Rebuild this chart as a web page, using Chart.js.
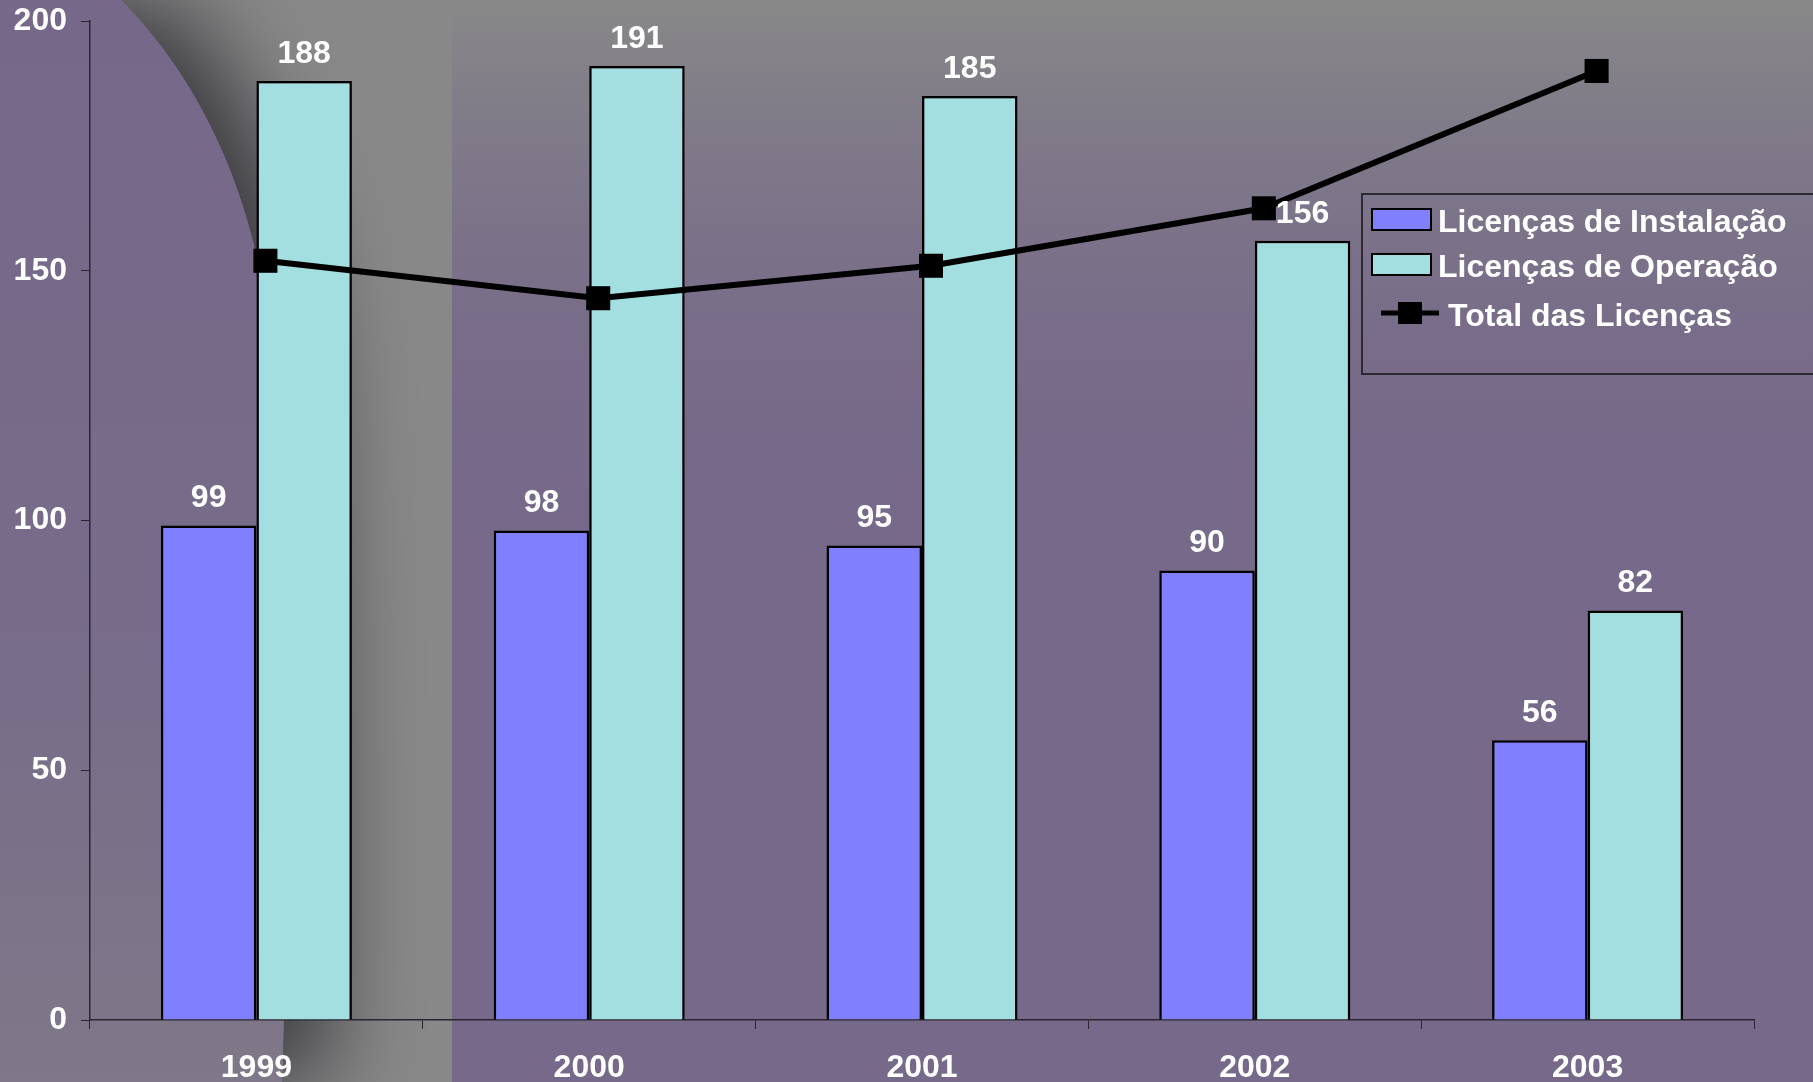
<!DOCTYPE html>
<html>
<head>
<meta charset="utf-8">
<script src="https://cdn.jsdelivr.net/npm/chart.js@4/dist/chart.umd.min.js"></script>
<style>
  html, body { margin: 0; padding: 0; background: #766989; overflow: hidden; }
  canvas { display: block; }
</style>
</head>
<body>
<canvas id="grafico" width="1813" height="1082"></canvas>
<script>
const anos = ["1999", "2000", "2001", "2002", "2003"];
const instalacao = [99, 98, 95, 90, 56];
const operacao = [188, 191, 185, 156, 82];
const total = [152, 144.5, 151, 162.5, 190];
const ticksY = [0, 50, 100, 150, 200];

const fonte = "'Liberation Sans', Arial, sans-serif";

// fundo: roxo com faixa cinza e curva à esquerda
const fundo = {
  id: "fundo",
  beforeDraw(chart) {
    const ctx = chart.ctx;
    const w = chart.width, h = chart.height;
    ctx.save();
    ctx.fillStyle = "#766989";
    ctx.fillRect(0, 0, w, h);

    const topo = ctx.createLinearGradient(0, 0, 0, 520);
    topo.addColorStop(0, "#888888");
    topo.addColorStop(1, "rgba(118,105,137,0)");
    ctx.fillStyle = topo;
    ctx.fillRect(0, 0, w, 520);

    // faixa cinza
    ctx.fillStyle = "#888888";
    ctx.fillRect(0, 0, 452, h);

    // região roxa com sombra sobre a faixa
    ctx.beginPath();
    ctx.rect(0, 0, 452, h);
    ctx.clip();
    const roxo = ctx.createLinearGradient(0, 0, 0, h);
    roxo.addColorStop(0, "#766889");
    roxo.addColorStop(0.6, "#776c89");
    roxo.addColorStop(1, "#7f7888");
    ctx.beginPath();
    ctx.moveTo(-50, 0);
    ctx.lineTo(121, 0);
    ctx.bezierCurveTo(200, 80, 262, 200, 275, 380);
    ctx.bezierCurveTo(285, 600, 288, 900, 282, h);
    ctx.lineTo(-50, h);
    ctx.closePath();
    ctx.shadowColor = "rgba(40,38,44,0.8)";
    ctx.shadowBlur = 90;
    ctx.shadowOffsetX = 45;
    ctx.fillStyle = roxo;
    ctx.fill();
    ctx.shadowColor = "transparent";
    ctx.fill();
    ctx.restore();
  }
};

// linha levemente deslocada à direita, como no original
const deslocaLinha = {
  id: "deslocaLinha",
  beforeDatasetDraw(chart, args) {
    if (args.meta.type === "line") {
      chart.ctx.save();
      chart.ctx.translate(9, 0);
    }
  },
  afterDatasetDraw(chart, args) {
    if (args.meta.type === "line") chart.ctx.restore();
  }
};

// valores acima das barras
const rotulos = {
  id: "rotulos",
  afterDraw(chart) {
    const ctx = chart.ctx;
    ctx.save();
    ctx.fillStyle = "#ffffff";
    ctx.font = "bold 32px " + fonte;
    ctx.textAlign = "center";
    ctx.textBaseline = "alphabetic";
    chart.data.datasets.forEach((ds, i) => {
      if (ds.type !== "bar") return;
      chart.getDatasetMeta(i).data.forEach((el, j) => {
        ctx.fillText(ds.data[j], el.x, el.y - 18);
      });
    });
    ctx.restore();
  }
};

// legenda desenhada à mão
const legenda = {
  id: "legenda",
  afterDraw(chart) {
    const ctx = chart.ctx;
    const x0 = 1362, y0 = 194;
    ctx.save();
    ctx.strokeStyle = "#2e2a33";
    ctx.lineWidth = 2;
    ctx.strokeRect(x0, y0, 480, 180);
    ctx.font = "bold 32px " + fonte;
    ctx.textBaseline = "alphabetic";
    ctx.textAlign = "left";
    const ds = chart.data.datasets;
    const linhas = [ds[1], ds[2], ds[0]];
    linhas.forEach((d, i) => {
      const y = y0 + 26 + i * 45;
      if (d.type === "bar") {
        ctx.fillStyle = d.backgroundColor;
        ctx.fillRect(x0 + 10, y - 11, 59, 21);
        ctx.strokeStyle = "#000";
        ctx.lineWidth = 2;
        ctx.strokeRect(x0 + 10, y - 11, 59, 21);
        ctx.fillStyle = "#fff";
        ctx.fillText(d.label, x0 + 76, y + 12);
      } else {
        const yl = y + 3;
        ctx.strokeStyle = "#000";
        ctx.lineWidth = 5;
        ctx.beginPath();
        ctx.moveTo(x0 + 19, yl);
        ctx.lineTo(x0 + 77, yl);
        ctx.stroke();
        ctx.fillStyle = "#000";
        ctx.fillRect(x0 + 36, yl - 11, 24, 22);
        ctx.fillStyle = "#fff";
        ctx.fillText(d.label, x0 + 86, yl + 13);
      }
    });
    ctx.restore();
  }
};

new Chart(document.getElementById("grafico"), {
  data: {
    labels: anos,
    datasets: [
      {
        type: "line",
        label: "Total das Licenças",
        data: total,
        borderColor: "#000",
        backgroundColor: "#000",
        borderWidth: 6,
        pointStyle: "rect",
        pointRadius: 17,
        pointHoverRadius: 17,
        pointBorderWidth: 0,
        tension: 0,
        order: 0
      },
      {
        type: "bar",
        label: "Licenças de Instalação",
        data: instalacao,
        backgroundColor: "#8080ff",
        borderColor: "#000",
        borderWidth: 2.5,
        barPercentage: 1,
        categoryPercentage: 0.574,
        order: 1
      },
      {
        type: "bar",
        label: "Licenças de Operação",
        data: operacao,
        backgroundColor: "#a3dfe0",
        borderColor: "#000",
        borderWidth: 2.5,
        barPercentage: 1,
        categoryPercentage: 0.574,
        order: 1
      }
    ]
  },
  options: {
    responsive: false,
    animation: false,
    layout: { padding: { top: 21, right: 59, left: 0, bottom: 0 } },
    plugins: {
      legend: { display: false },
      tooltip: { enabled: false }
    },
    scales: {
      x: {
        grid: { offset: true, drawOnChartArea: false, tickLength: 9, color: "#2a2630" },
        border: { color: "#2a2630", width: 1.5 },
        ticks: { color: "#fff", font: { family: fonte, size: 32, weight: "bold" }, padding: 20 },
        afterFit(scale) { scale.height = 62; }
      },
      y: {
        min: 0,
        max: 200,
        afterBuildTicks(scale) { scale.ticks = ticksY.map(v => ({ value: v })); },
        grid: { drawOnChartArea: false, tickLength: 9, color: "#2a2630" },
        border: { color: "#2a2630", width: 1.5 },
        ticks: { color: "#fff", font: { family: fonte, size: 32, weight: "bold" }, padding: 14 },
        afterFit(scale) {
          scale.width = 90;
          scale.paddingTop = 0;
          scale.paddingBottom = 0;
        }
      }
    }
  },
  plugins: [fundo, deslocaLinha, rotulos, legenda]
});
</script>
</body>
</html>
